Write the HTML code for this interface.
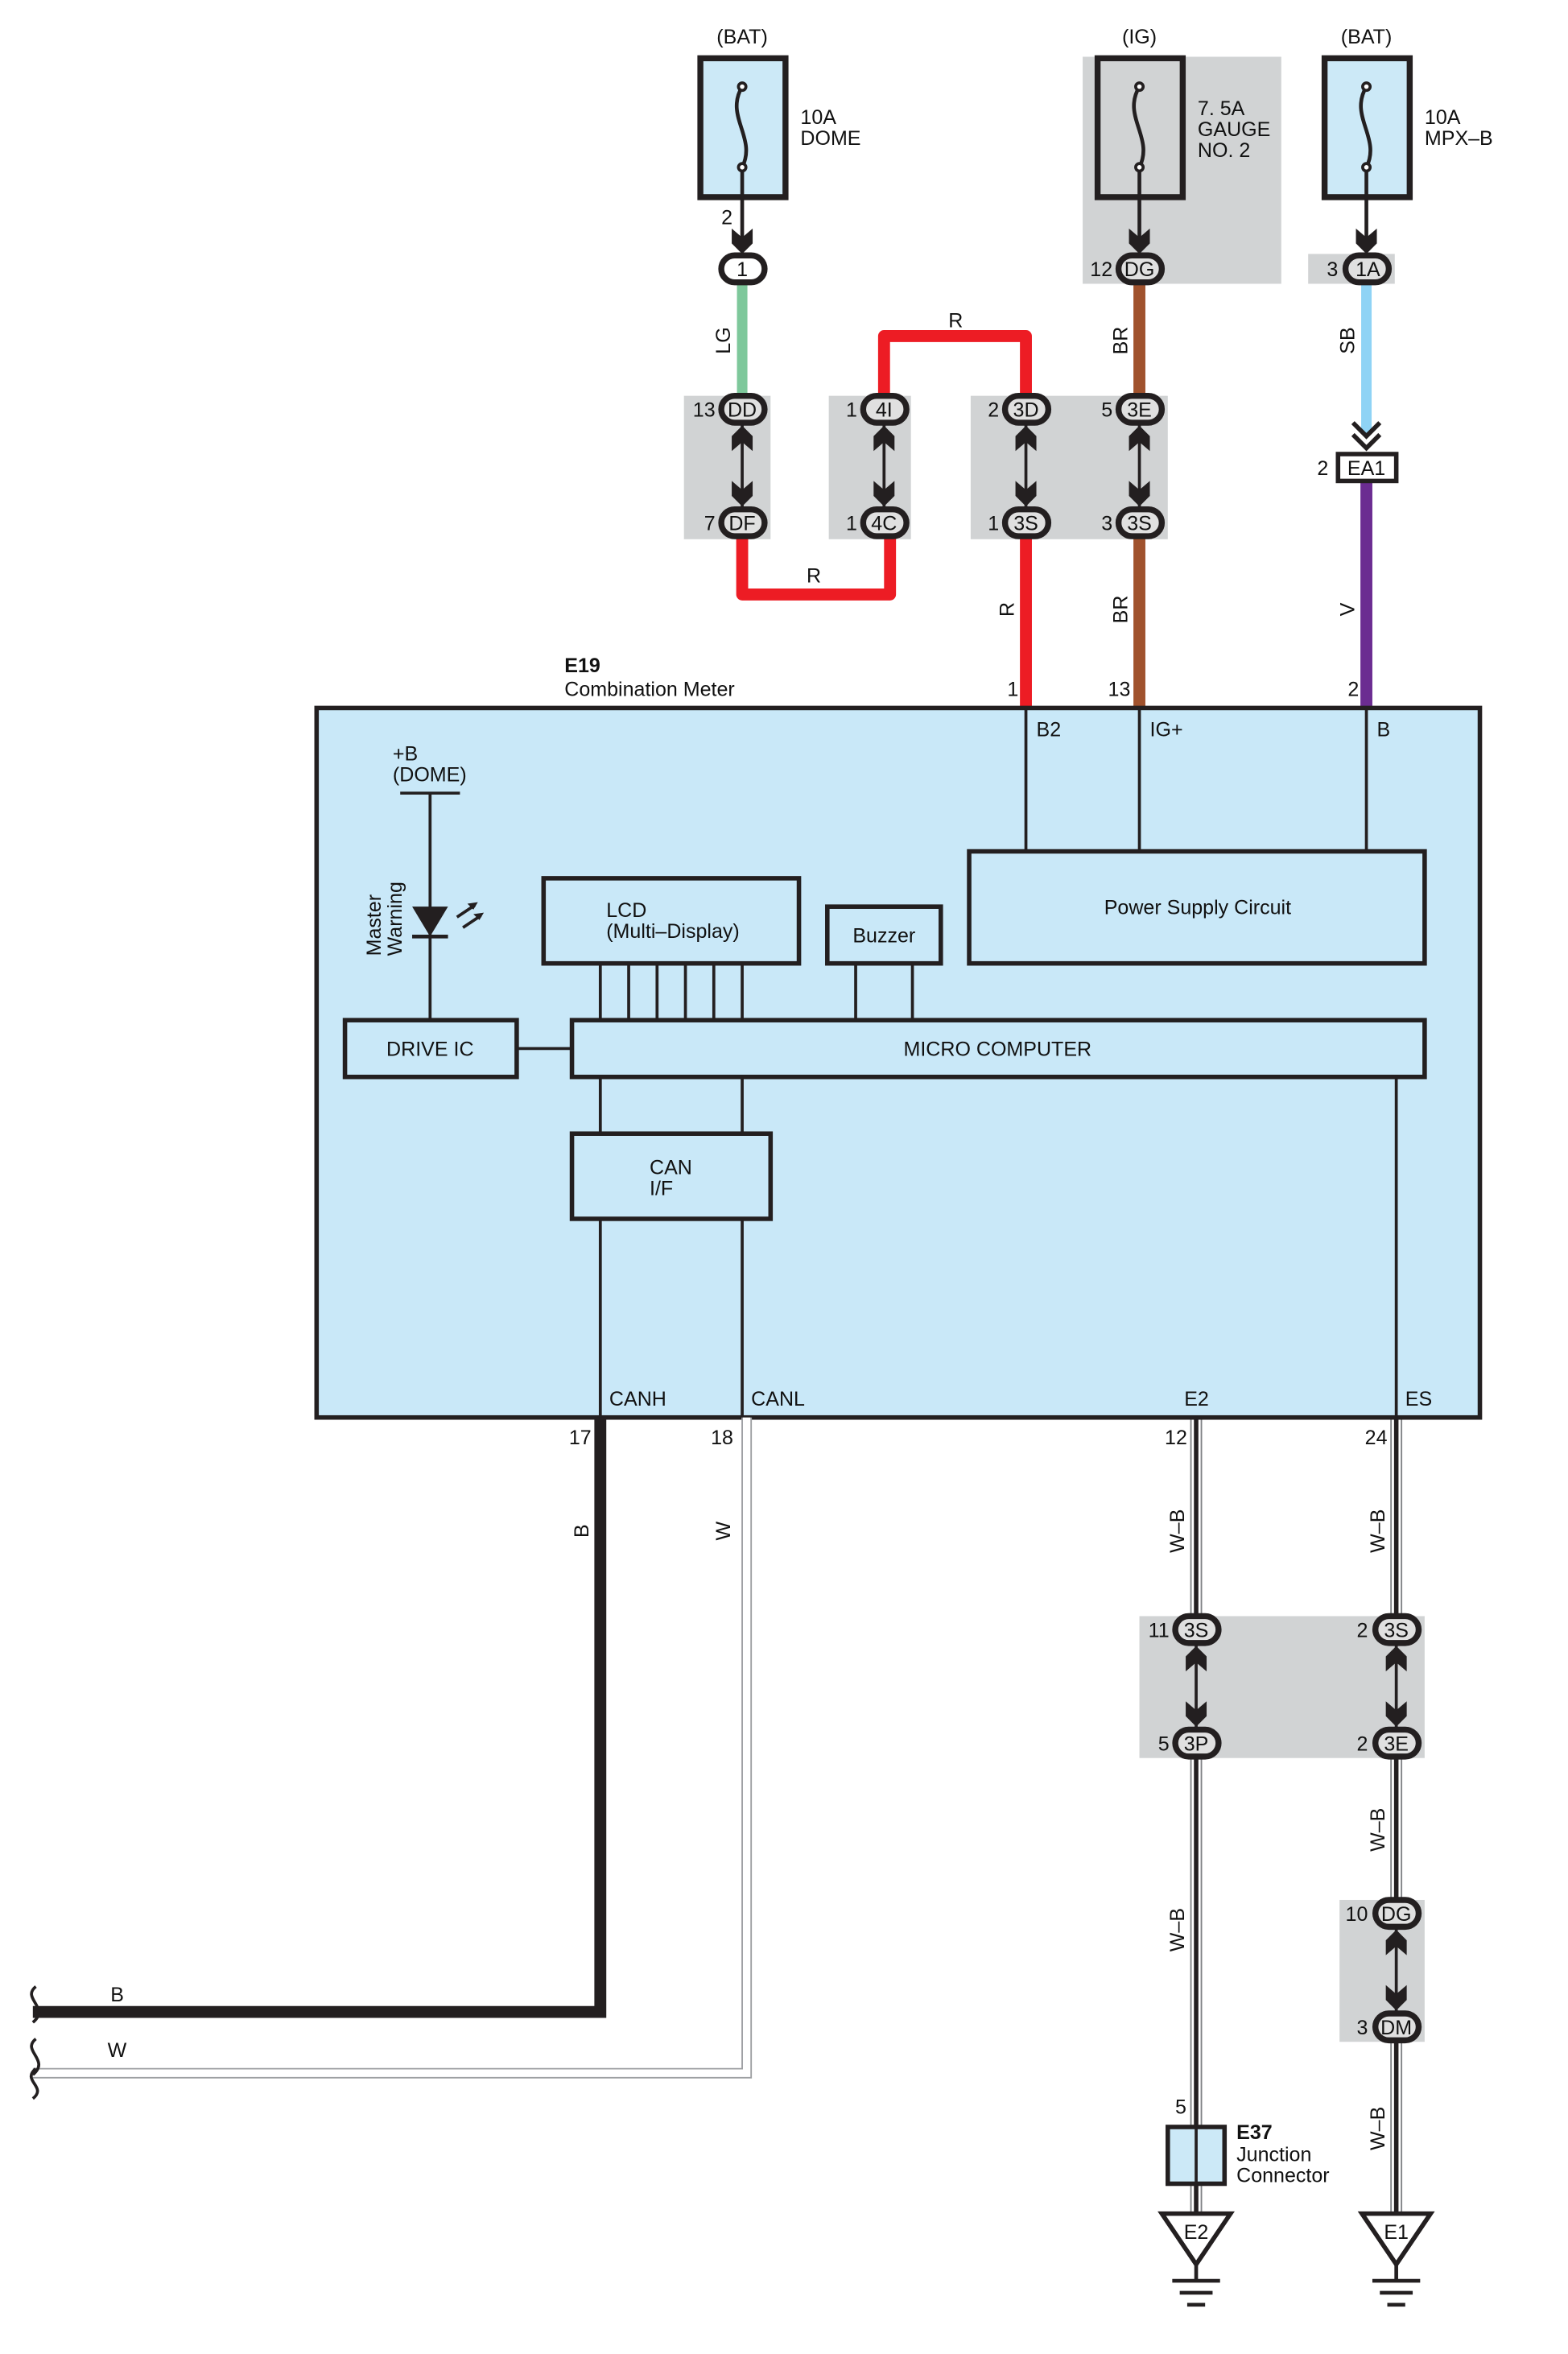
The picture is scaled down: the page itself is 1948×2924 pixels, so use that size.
<!DOCTYPE html>
<html><head><meta charset="utf-8"><style>
html,body{margin:0;padding:0;background:#fff}
svg{display:block}
text{font-family:"Liberation Sans",sans-serif;font-size:13.5px;fill:#111}
</style></head><body>
<svg width="1948" height="2924" viewBox="0 0 1050 1576" preserveAspectRatio="none" xmlns="http://www.w3.org/2000/svg">
<defs>
<polygon id="ad" points="-7,-9 0,-3 7,-9 7,1 0,8 -7,1"/>
<g id="au"><use href="#ad" transform="rotate(180)"/></g>
</defs>
<g fill="#d1d3d4">
<rect x="725" y="38" width="133" height="152"/>
<rect x="876" y="170" width="58" height="20"/>
<rect x="458" y="265" width="58" height="96"/>
<rect x="555" y="265" width="55" height="96"/>
<rect x="650" y="265" width="132" height="96"/>
<rect x="763" y="1082" width="191" height="95"/>
<rect x="897" y="1272" width="57" height="95"/>
</g>
<g text-anchor="middle">
<text x="497" y="29">(BAT)</text><text x="763" y="29">(IG)</text><text x="915" y="29">(BAT)</text>
</g>
<text x="536" y="83">10A</text><text x="536" y="97">DOME</text>
<text x="802" y="77">7. 5A</text><text x="802" y="91">GAUGE</text><text x="802" y="105">NO. 2</text>
<text x="954" y="83">10A</text><text x="954" y="97">MPX–B</text>
<g stroke="#231f20" stroke-width="4">
<rect x="469" y="39" width="57" height="93" fill="#cce9f7"/>
<rect x="735" y="39" width="57" height="93" fill="none"/>
<rect x="887" y="39" width="57" height="93" fill="#cce9f7"/>
</g>
<g stroke="#231f20" stroke-width="2.5" fill="none">
<path d="M497,58 c-12,20 10,34 0,54 M763,58 c-12,20 10,34 0,54 M915,58 c-12,20 10,34 0,54"/>
<path d="M497,112 V160 M763,112 V160 M915,112 V160"/>
</g>
<g fill="#fff" stroke="#231f20" stroke-width="2"><circle cx="497" cy="58" r="2.5"/><circle cx="497" cy="112" r="2.5"/><circle cx="763" cy="58" r="2.5"/><circle cx="763" cy="112" r="2.5"/><circle cx="915" cy="58" r="2.5"/><circle cx="915" cy="112" r="2.5"/></g>
<g fill="#231f20"><use href="#ad" x="497" y="162"/><use href="#ad" x="763" y="162"/><use href="#ad" x="915" y="162"/></g>
<text x="483" y="150">2</text>
<g fill="none" stroke-linejoin="round">
<path d="M497,190 V265" stroke="#7ec89b" stroke-width="7"/>
<path d="M763,190 V265 M763,360 V474" stroke="#a0522d" stroke-width="8"/>
<path d="M915,190 V290" stroke="#8fd3f5" stroke-width="7"/>
<path d="M915,322 V474" stroke="#6b2c91" stroke-width="8"/>
<path d="M497,360 V398 H596 V360 M592,265 V225 H687 V265 M687,360 V474" stroke="#ed1c24" stroke-width="8"/>
</g>
<g fill="none" stroke="#231f20" stroke-width="3"><path d="M906,283 L915,292 L924,283 M906,291 L915,300 L924,291"/></g>
<rect x="896" y="304" width="39" height="18" fill="#fff" stroke="#231f20" stroke-width="3"/>
<text x="915" y="318" text-anchor="middle">EA1</text><text x="882" y="318">2</text>
<g text-anchor="middle">
<text transform="translate(489,228) rotate(-90)">LG</text>
<text transform="translate(755,228) rotate(-90)">BR</text>
<text transform="translate(907,228) rotate(-90)">SB</text>
<text x="640" y="219">R</text><text x="545" y="390">R</text>
<text transform="translate(679,408) rotate(-90)">R</text>
<text transform="translate(755,408) rotate(-90)">BR</text>
<text transform="translate(907,408) rotate(-90)">V</text>
</g>
<!-- W-B wires (segments) -->
<g fill="none">
<path d="M801,949 V1082 M935,949 V1082 M801,1176 V1482 M935,1176 V1272 M935,1366 V1482" stroke="#808285" stroke-width="8"/>
<path d="M801,949 V1082 M935,949 V1082 M801,1176 V1482 M935,1176 V1272 M935,1366 V1482" stroke="#fff" stroke-width="6"/>
<path d="M801,949 V1082 M935,949 V1082 M801,1176 V1482 M935,1176 V1272 M935,1366 V1482" stroke="#231f20" stroke-width="3"/>
</g>
<g stroke="#231f20" stroke-width="2">
<path d="M497,283 V341 M592,283 V341 M687,283 V341 M763,283 V341 M801,1100 V1158 M935,1100 V1158 M935,1290 V1348"/>
</g>
<g fill="#231f20">
<use href="#au" x="497" y="293"/><use href="#ad" x="497" y="331"/>
<use href="#au" x="592" y="293"/><use href="#ad" x="592" y="331"/>
<use href="#au" x="687" y="293"/><use href="#ad" x="687" y="331"/>
<use href="#au" x="763" y="293"/><use href="#ad" x="763" y="331"/>
<use href="#au" x="801" y="1110"/><use href="#ad" x="801" y="1148"/>
<use href="#au" x="935" y="1110"/><use href="#ad" x="935" y="1148"/>
<use href="#au" x="935" y="1300"/><use href="#ad" x="935" y="1338"/>
</g>
<g stroke="#231f20" stroke-width="4" fill="#e0e0e0">
<rect x="483" y="171" width="29" height="18" rx="9" fill="#fff"/>
<rect x="749" y="171" width="29" height="18" rx="9"/>
<rect x="901" y="171" width="29" height="18" rx="9"/>
<rect x="483" y="265" width="29" height="18" rx="9"/><rect x="483" y="341" width="29" height="18" rx="9"/>
<rect x="578" y="265" width="29" height="18" rx="9"/><rect x="578" y="341" width="29" height="18" rx="9"/>
<rect x="673" y="265" width="29" height="18" rx="9"/><rect x="673" y="341" width="29" height="18" rx="9"/>
<rect x="749" y="265" width="29" height="18" rx="9"/><rect x="749" y="341" width="29" height="18" rx="9"/>
<rect x="787" y="1082" width="29" height="18" rx="9"/><rect x="787" y="1158" width="29" height="18" rx="9"/>
<rect x="921" y="1082" width="29" height="18" rx="9"/><rect x="921" y="1158" width="29" height="18" rx="9"/>
<rect x="921" y="1272" width="29" height="18" rx="9"/><rect x="921" y="1348" width="29" height="18" rx="9"/>
</g>
<g text-anchor="middle">
<text x="497" y="185">1</text><text x="763" y="185">DG</text><text x="916" y="185">1A</text>
<text x="497" y="279">DD</text><text x="497" y="355">DF</text>
<text x="592" y="279">4I</text><text x="592" y="355">4C</text>
<text x="687" y="279">3D</text><text x="687" y="355">3S</text>
<text x="763" y="279">3E</text><text x="763" y="355">3S</text>
<text x="801" y="1096">3S</text><text x="801" y="1172">3P</text>
<text x="935" y="1096">3S</text><text x="935" y="1172">3E</text>
<text x="935" y="1286">DG</text><text x="935" y="1362">DM</text>
</g>
<g text-anchor="end">
<text x="745" y="185">12</text><text x="896" y="185">3</text>
<text x="479" y="279">13</text><text x="479" y="355">7</text>
<text x="574" y="279">1</text><text x="574" y="355">1</text>
<text x="669" y="279">2</text><text x="669" y="355">1</text>
<text x="745" y="279">5</text><text x="745" y="355">3</text>
<text x="783" y="1096">11</text><text x="783" y="1172">5</text>
<text x="916" y="1096">2</text><text x="916" y="1172">2</text>
<text x="916" y="1286">10</text><text x="916" y="1362">3</text>
<text x="682" y="466">1</text><text x="757" y="466">13</text><text x="910" y="466">2</text>
<text x="396" y="967">17</text><text x="491" y="967">18</text><text x="795" y="967">12</text><text x="929" y="967">24</text>
</g>
<text x="378" y="450" font-weight="bold">E19</text><text x="378" y="466">Combination Meter</text>
<rect x="212" y="474" width="779" height="475" fill="#c9e8f8" stroke="#231f20" stroke-width="3"/>
<g stroke="#231f20" stroke-width="2" fill="none">
<path d="M687,474 V570 M763,474 V570 M915,474 V570"/>
<path d="M268,531 H308 M288,531 V683"/>
<path d="M346,702 H383"/>
<path d="M402,645 V683 M421,645 V683 M440,645 V683 M459,645 V683 M478,645 V683 M497,645 V683 M573,645 V683 M611,645 V683"/>
<path d="M402,721 V759 M497,721 V759 M402,816 V949 M497,816 V949 M935,721 V949"/>
<path d="M306,614 l12,-8 M310,621 l12,-8"/>
</g>
<polygon points="276,607 300,607 288,627" fill="#231f20"/>
<path d="M276,627 H300" stroke="#231f20" stroke-width="2.5"/>
<polygon points="320,604 313,605 317,609" fill="#231f20"/><polygon points="324,611 317,612 321,616" fill="#231f20"/>
<g stroke="#231f20" stroke-width="3" fill="none">
<rect x="649" y="570" width="305" height="75"/>
<rect x="364" y="588" width="171" height="57"/>
<rect x="554" y="607" width="76" height="38"/>
<rect x="231" y="683" width="115" height="38"/>
<rect x="383" y="683" width="571" height="38"/>
<rect x="383" y="759" width="133" height="57"/>
</g>
<text x="694" y="493">B2</text><text x="770" y="493">IG+</text><text x="922" y="493">B</text>
<text x="263" y="509">+B</text><text x="263" y="523">(DOME)</text>
<text transform="translate(255,640) rotate(-90)">Master</text><text transform="translate(269,640) rotate(-90)">Warning</text>
<text x="802" y="612" text-anchor="middle">Power Supply Circuit</text>
<text x="406" y="614">LCD</text><text x="406" y="628">(Multi–Display)</text>
<text x="592" y="631" text-anchor="middle">Buzzer</text>
<text x="288" y="707" text-anchor="middle">DRIVE IC</text>
<text x="668" y="707" text-anchor="middle">MICRO COMPUTER</text>
<text x="435" y="786">CAN</text><text x="435" y="800">I/F</text>
<text x="408" y="941">CANH</text><text x="503" y="941">CANL</text><text x="793" y="941">E2</text><text x="941" y="941">ES</text>
<path d="M500,949 V1388 H22" fill="none" stroke="#9d9fa2" stroke-width="7"/>
<path d="M500,949 V1388 H22" fill="none" stroke="#fff" stroke-width="5"/>
<path d="M402,949 V1347 H22" fill="none" stroke="#231f20" stroke-width="8"/>
<path d="M24,1330 c-10,8 10,14 -2,24 M24,1365 c-10,8 10,14 -2,24 M24,1385 c-10,8 8,12 -2,20" fill="none" stroke="#231f20" stroke-width="2"/>
<text x="74" y="1340">B</text><text x="72" y="1377">W</text>
<g text-anchor="middle">
<text transform="translate(394,1025) rotate(-90)">B</text>
<text transform="translate(489,1025) rotate(-90)">W</text>
<text transform="translate(793,1025) rotate(-90)">W–B</text>
<text transform="translate(927,1025) rotate(-90)">W–B</text>
<text transform="translate(793,1292) rotate(-90)">W–B</text>
<text transform="translate(927,1225) rotate(-90)">W–B</text>
<text transform="translate(927,1425) rotate(-90)">W–B</text>
</g>
<rect x="782" y="1424" width="38" height="38" fill="#cce9f7" stroke="#231f20" stroke-width="3"/>
<path d="M801,1424 V1462" stroke="#231f20" stroke-width="2"/>
<text x="787" y="1415">5</text>
<text x="828" y="1432" font-weight="bold">E37</text><text x="828" y="1447">Junction</text><text x="828" y="1461">Connector</text>
<g stroke="#231f20" stroke-width="3" fill="#fff">
<polygon points="778,1482 824,1482 801,1516"/><polygon points="912,1482 958,1482 935,1516"/>
</g>
<g stroke="#231f20" stroke-width="2.5">
<path d="M801,1516 V1527 M785,1527 H817 M790,1535 H812 M795,1543 H807"/>
<path d="M935,1516 V1527 M919,1527 H951 M924,1535 H946 M929,1543 H941"/>
</g>
<text x="801" y="1499" text-anchor="middle">E2</text><text x="935" y="1499" text-anchor="middle">E1</text>
</svg>
</body></html>
